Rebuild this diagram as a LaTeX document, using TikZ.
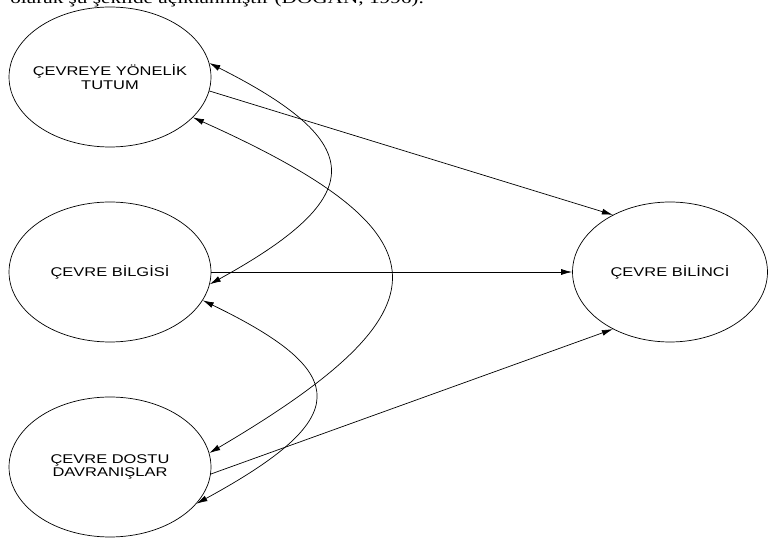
\documentclass[tikz,border=0pt]{standalone}
\usepackage{fontspec}
\usetikzlibrary{shapes.geometric,arrows.meta}
\newfontfamily\conceptfont[FakeStretch=1.3]{Liberation Sans}
\newfontfamily\captfont[FakeStretch=1.3]{Liberation Serif}
\begin{document}
\begin{tikzpicture}[x=0.02cm, y=-0.02cm,
concept/.style={ellipse, draw, thin, inner sep=0pt, minimum width=4.04cm, minimum height=2.8cm},
conceptlabel/.style={align=center, font=\conceptfont\fontsize{7.2}{7.8}\selectfont},
link/.style={thin, -{Latex[length=2.2mm,width=1.2mm]}},
corr/.style={thin, {Latex[length=2.2mm,width=1.2mm]}-{Latex[length=2.2mm,width=1.2mm]}}]
\useasboundingbox (0,0) rectangle (768,540);
\begin{scope}
\clip (0,0) rectangle (768,20);
\node[anchor=base west, inner sep=0pt, font=\captfont\fontsize{9.3}{11}\selectfont] (quote) at (10,3.5) {olarak şu şekilde açıklanmıştır (DOĞAN, 1996).};
\end{scope}
\node[concept, label={[conceptlabel]center:ÇEVREYE YÖNELİK\\TUTUM}] (tutum) at (110,77) {};
\node[concept, label={[conceptlabel]center:ÇEVRE BİLGİSİ}] (bilgi) at (110,272) {};
\node[concept, label={[conceptlabel]center:ÇEVRE DOSTU\\DAVRANIŞLAR}] (davranis) at (110,467) {};
\node[concept, minimum width=3.9cm, label={[conceptlabel]center:ÇEVRE BİLİNCİ}] (bilinc) at (670,272) {};
\draw[link] (tutum.-8) -- (bilinc.135);
\draw[link] (bilgi.east) -- (bilinc.west);
\draw[link] (davranis.-4) -- (bilinc.225);
\draw[corr] (tutum.8) .. controls +(159,80) and +(160,-88) .. (bilgi.-7);
\draw[corr] (tutum.-26) .. controls +(261,117) and +(243,-143) .. (davranis.8);
\draw[corr] (bilgi.-17.5) .. controls +(151,73) and +(156,-85) .. (davranis.-23);
\end{tikzpicture}
\end{document}
